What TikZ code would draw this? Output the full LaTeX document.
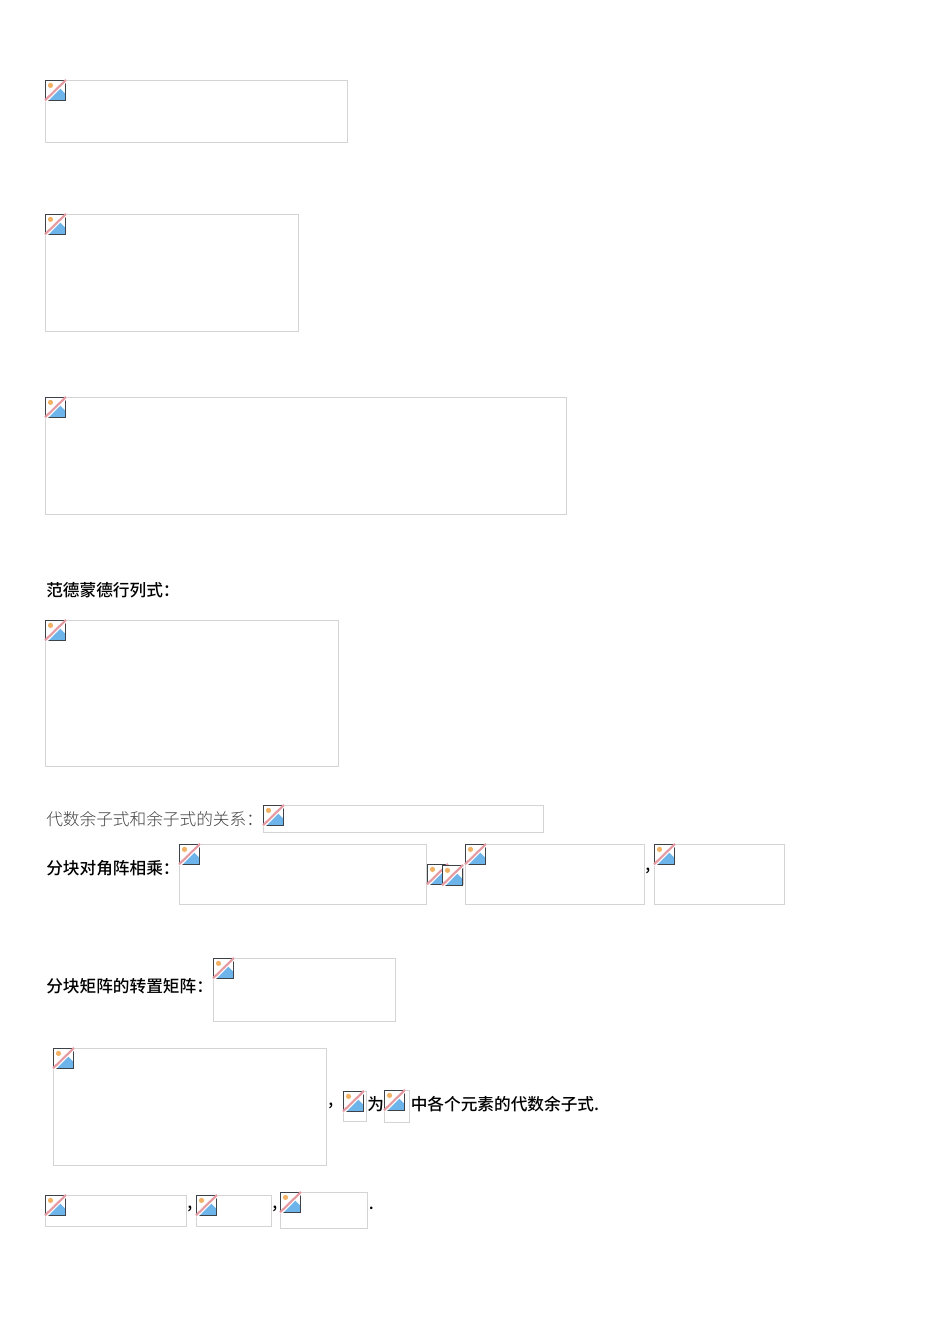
\documentclass[tikz,border=0pt]{standalone}
\usepackage{fontspec}
\setmainfont{Noto Sans CJK SC Medium}
\newfontfamily\lightcjk{Noto Sans CJK SC Light}
\definecolor{boxgray}{HTML}{D4D4D4}
\definecolor{icondark}{HTML}{3C4248}
\definecolor{iconblue}{HTML}{6DB4EA}
\definecolor{iconsun}{HTML}{F2B266}
\definecolor{iconpink}{HTML}{E59AA2}
\tikzset{
    imgbox/.style={draw=boxgray,line width=0.75pt,inner sep=0pt,outer sep=0pt,anchor=north west},
    txt/.style={inner sep=0pt,font=\fontsize{12.5pt}{14pt}\selectfont,anchor=west},
    graytxt/.style={inner sep=0pt,text=black!75,font=\lightcjk\fontsize{12.5pt}{14pt}\selectfont,anchor=west},
    brokenicon/.pic={
        \fill[white] (0.5,0) rectangle (20.5,20);
        \fill[iconblue] (3.5,20) -- (14.5,7.5) -- (20.5,13.5) -- (20.5,20) -- cycle;
        \fill[iconsun] (5.5,5) circle (2.6);
        \draw[icondark,line width=1.2pt] (0.5,0) rectangle (20.5,20);
        \draw[white,line width=2.2pt] (0.5,21) -- (21.5,0);
        \draw[iconpink,line width=1.6pt] (0,20) -- (21,-0.5);
    }
}
\begin{document}
\begin{tikzpicture}[x=0.75pt,y=-0.75pt]
    \useasboundingbox (0,0) rectangle (950,1344);
    \foreach \name/\x/\y/\w/\h in {one/45/80/302/62,two/45/214/253/117,three/45/397/521/117,
        vander/45/620/293/146,cof/263/805/280/27,
        blockA/179/844/247/60,blockB/427/864/14/19,blockC/442/865/21/19,blockD/465/844/179/60,blockE/654/844/130/60,
        trans/213/958/182/63,adj/53/1048/273/117,adjA/343/1091/23/30,adjB/384/1090/25/32,
        lastA/45/1195/141/31,lastB/196/1195/75/31,lastC/280/1192/87/36} {
        \node[imgbox,minimum width=0.75pt*\w,minimum height=0.75pt*\h] (\name) at (\x,\y+0.4) {};
        \pic at (\name.north west) {brokenicon};
    }
    \node[txt] (vandertitle) at (46,590) {范德蒙德行列式：};
    \node[graytxt] (coftitle) at (46,819.5) {代数余子式和余子式的关系：};
    \node[txt] (blocktitle) at (46,868) {分块对角阵相乘：};
    \node[txt] (transtitle) at (46,986) {分块矩阵的转置矩阵：};
    \node[txt] (wei) at (367,1104) {为};
    \node[txt] (desc) at (410.5,1104) {中各个元素的代数余子式.};
    \node[txt] (commaA) at (645,871) {,};
    \node[txt] (commaB) at (328,1106) {,};
    \node[txt] (commaC) at (187,1209) {,};
    \node[txt] (commaD) at (272,1209) {,};
    \node[txt] (stop) at (368.5,1208) {.};
\end{tikzpicture}
\end{document}
